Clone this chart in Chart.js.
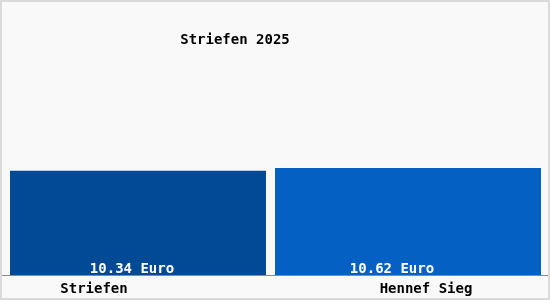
<!DOCTYPE html>
<html lang="de">
<head>
  <meta charset="UTF-8">
  <title>Striefen 2025</title>
  <script src="https://cdn.jsdelivr.net/npm/chart.js"></script>
  <style>
    body { margin: 0; background: #ffffff; }
    canvas { display: block; }
  </style>
</head>
<body>
  <canvas id="chart" width="550" height="300"></canvas>

  <script>
    // data
    const title = 'Striefen 2025';
    const places = ['Striefen', 'Hennef Sieg'];
    const prices = [10.34, 10.62];
    const unit = 'Euro';
    const barColors = ['#034a96', '#0560c4'];

    const FONT = 'bold 14px "DejaVu Sans Mono", monospace';

    // frame, title, value labels and place names
    const decor = {
      id: 'decor',
      beforeDraw(chart) {
        const ctx = chart.ctx;
        ctx.save();
        ctx.fillStyle = '#f9f9f9';
        ctx.fillRect(0, 0, chart.width, chart.height);
        ctx.restore();
      },
      afterDraw(chart) {
        const ctx = chart.ctx;
        const x = chart.scales.x;
        ctx.save();

        // baseline
        ctx.strokeStyle = '#8c8c8c';
        ctx.lineWidth = 1;
        ctx.beginPath();
        ctx.moveTo(0, 275.5);
        ctx.lineTo(chart.width, 275.5);
        ctx.stroke();

        // outer frame
        ctx.strokeStyle = '#dadada';
        ctx.lineWidth = 2;
        ctx.strokeRect(1, 1, chart.width - 2, chart.height - 2);

        ctx.font = FONT;
        ctx.textAlign = 'center';
        ctx.textBaseline = 'alphabetic';

        ctx.fillStyle = '#000';
        ctx.fillText(title, 235, 44);

        const valueShift = [-6, -16];
        const nameShift = [-44, 18];
        places.forEach((p, i) => {
          const cx = x.getPixelForValue(i);
          ctx.fillStyle = '#fff';
          ctx.fillText(prices[i].toFixed(2) + ' ' + unit, cx + valueShift[i], 273);
          ctx.fillStyle = '#000';
          ctx.fillText(p, cx + nameShift[i], 293);
        });
        ctx.restore();
      }
    };

    new Chart(document.getElementById('chart'), {
      type: 'bar',
      data: {
        labels: places,
        datasets: [
          {
            data: [prices[0], null],
            backgroundColor: barColors[0],
            barPercentage: 256 / 270,
            categoryPercentage: 1
          },
          {
            data: [null, prices[1]],
            backgroundColor: barColors[1],
            barPercentage: 266 / 270,
            categoryPercentage: 1
          }
        ]
      },
      options: {
        responsive: false,
        animation: false,
        devicePixelRatio: 1,
        layout: { padding: { left: 3, right: 7, top: 3, bottom: 25 } },
        plugins: {
          legend: { display: false },
          tooltip: { enabled: false }
        },
        datasets: { bar: { grouped: false, skipNull: true } },
        scales: {
          x: { display: false },
          y: { display: false, min: 0, max: 27 }
        }
      },
      plugins: [decor]
    });
  </script>
</body>
</html>
